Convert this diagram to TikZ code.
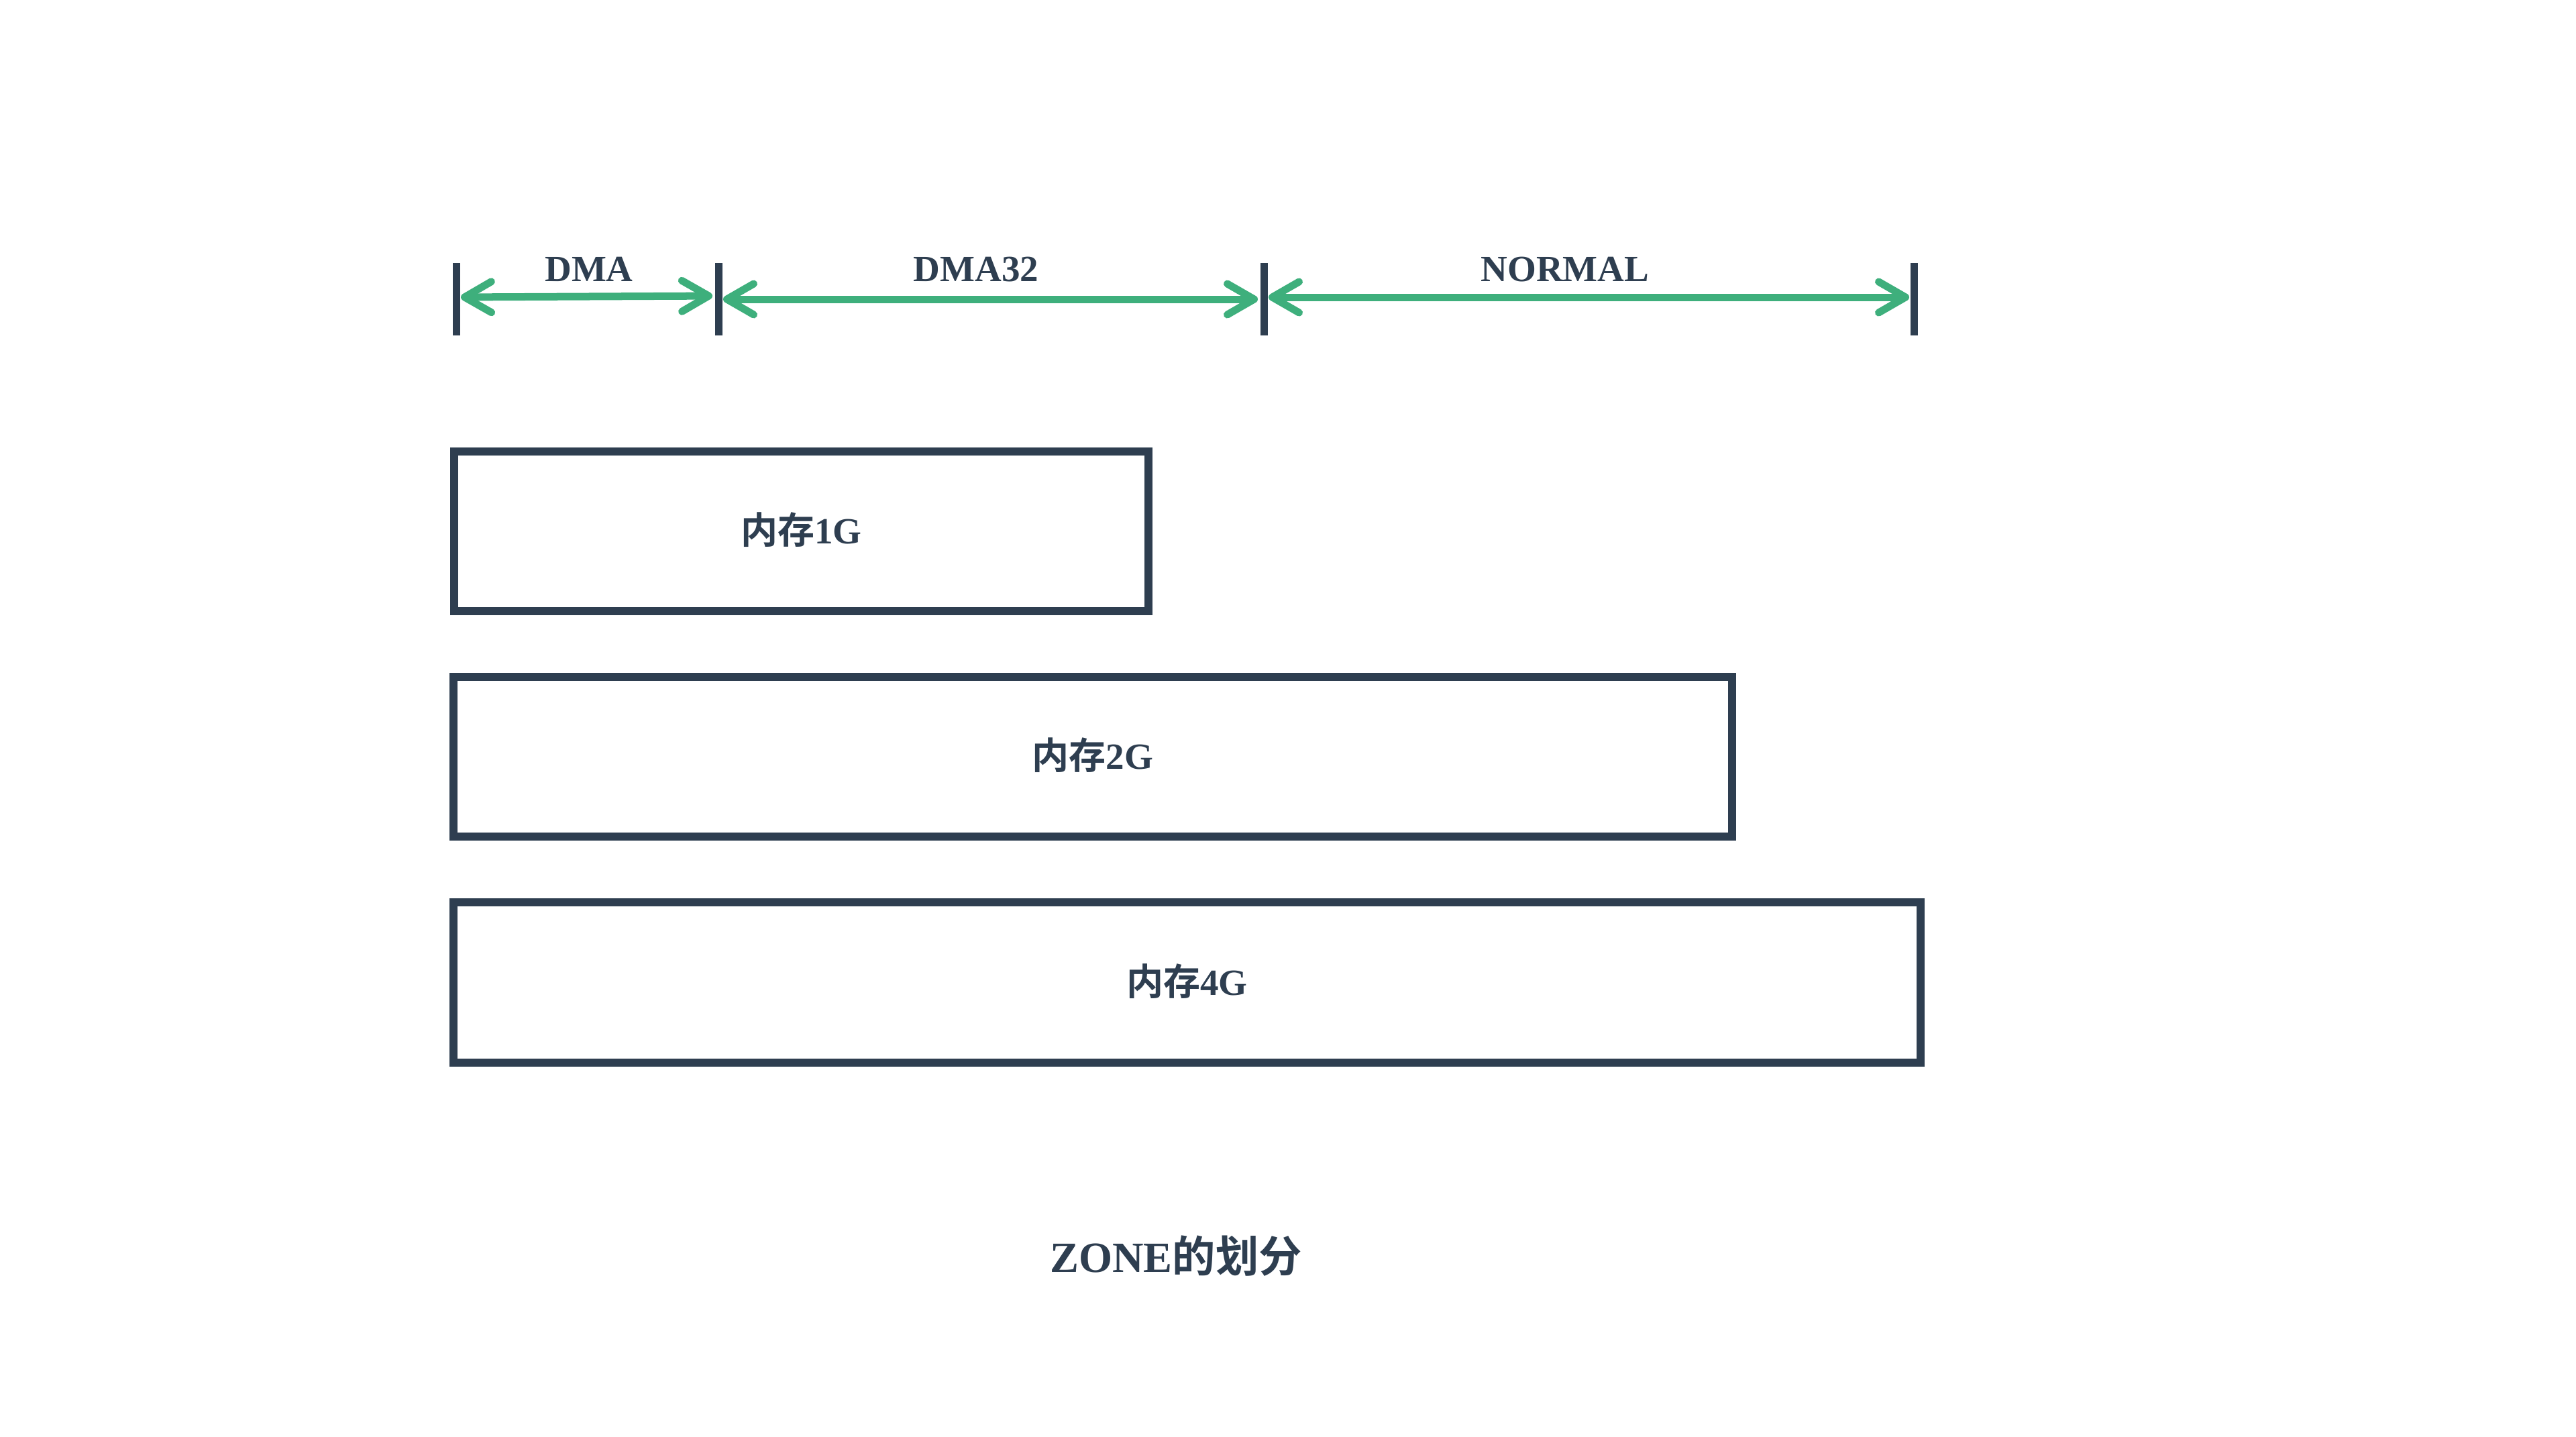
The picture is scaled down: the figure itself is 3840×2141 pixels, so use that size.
\documentclass[tikz,border=0pt]{standalone}
\usepackage{fontspec}
\setmainfont{Liberation Serif}
\newfontfamily\cjk{Noto Sans CJK SC}[BoldFont=* Bold]
\usetikzlibrary{arrows.meta}
\definecolor{navy}{HTML}{2E3E50}
\definecolor{vgreen}{HTML}{3EAF7C}
\begin{document}
\begin{tikzpicture}[x=0.01cm,y=-0.01cm,
  membox/.style={draw=navy, line width=0.12cm, inner sep=0pt, outer sep=0pt},
  tickbar/.style={draw=navy, line width=0.11cm},
  barb/.tip={Straight Barb[length=0.40cm,width=0.46cm,line cap=round,line join=round]},
  span/.style={draw=vgreen, line width=0.11cm, barb-barb, shorten <=0.05cm, shorten >=0.05cm},
  lab/.style={text=navy, font=\fontsize{15.65}{18}\selectfont\bfseries, inner sep=0pt, anchor=base},
  ttl/.style={text=navy, font=\fontsize{18.3}{21}\selectfont\bfseries, inner sep=0pt, anchor=base},
]
\useasboundingbox[fill=white] (0,0) rectangle (3840,2141);

% ticks
\draw[tickbar] (680,392) -- (680,500);
\draw[tickbar] (1071,392) -- (1071,500);
\draw[tickbar] (1884,392) -- (1884,500);
\draw[tickbar] (2853,392) -- (2853,500);

% arrow ends
\coordinate (dmaL) at (682,443);
\coordinate (dmaR) at (1067,441);
\coordinate (d32L) at (1073,446);
\coordinate (d32R) at (1880,446);
\coordinate (nL) at (1886,443);
\coordinate (nR) at (2851,443);

\draw[span] (dmaL) -- (dmaR);
\draw[span] (d32L) -- (d32R);
\draw[span] (nL) -- (nR);

% zone labels
\node[lab] (ldma) at (878,419) {DMA};
\node[lab] (ld32) at (1455,419) {DMA32};
\node[lab] (lnorm) at (2333,419) {NORMAL};

% memory boxes
\node[membox, minimum width=10.35cm, minimum height=2.38cm] (m1) at (1194.5,792) {};
\node[membox, minimum width=19.04cm, minimum height=2.38cm] (m2) at (1629,1128) {};
\node[membox, minimum width=21.85cm, minimum height=2.39cm] (m4) at (1769.5,1464.5) {};

\node[lab] (t1) at (1194.5,810) {{\cjk 内存}1G};
\node[lab] (t2) at (1629,1146) {{\cjk 内存}2G};
\node[lab] (t4) at (1769.5,1483) {{\cjk 内存}4G};

% title
\node[ttl] (title) at (1753,1896) {ZONE{\cjk 的划分}};
\end{tikzpicture}
\end{document}
